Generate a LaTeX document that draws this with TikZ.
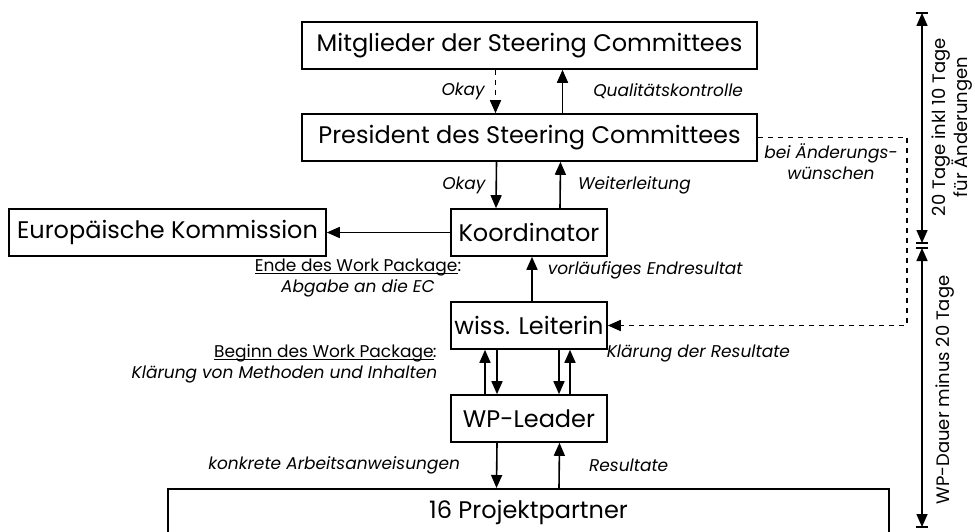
\documentclass[tikz,border=0pt]{standalone}
\usepackage{fontspec}
\setmainfont{Poppins}
\usetikzlibrary{arrows.meta}
\begin{document}
\begin{tikzpicture}[x=1pt, y=-1pt, >={Triangle[length=13pt,width=11pt]}, line width=1.6pt]
	\tikzstyle{box} = [draw, rectangle, inner sep=0pt, minimum height=47pt, font=\fontsize{24}{28}\selectfont]
	\tikzstyle{lbl} = [inner sep=0pt, font=\itshape\fontsize{17}{21}\selectfont]
	\tikzstyle{dimlbl} = [inner sep=0pt, rotate=90, align=center, font=\fontsize{18}{18}\selectfont]
	\tikzstyle{flow} = [->]
	\tikzstyle{back} = [->, dash pattern=on 5pt off 5pt]
	\useasboundingbox (0,0) rectangle (975,532);
	\node[box, minimum width=455pt](mitg) at (529.5,45.5) {Mitglieder der Steering Committees};
	\node[box, minimum width=455pt](pres) at (529.5,137.5) {President des Steering Committees};
	\node[box, minimum width=317pt](ek) at (167.5,232.5) {Europäische Kommission};
	\node[box, minimum width=156pt](koord) at (529,232.5) {Koordinator};
	\node[box, minimum width=156pt](leit) at (529,325.5) {wiss. Leiterin};
	\node[box, minimum width=156pt](wpl) at (529,418.5) {WP-Leader};
	\node[box, minimum width=721pt, text height=30pt, text depth=40pt, anchor=north](partner) at (528.5,488) {16 Projektpartner};
	\path ([xshift=-34pt]mitg.south) edge[back] node[lbl, left=10pt] {Okay} ([xshift=-34pt]pres.north);
	\path ([xshift=33pt]pres.north) edge[flow] node[lbl, right=30pt] {Qualitätskontrolle} ([xshift=33pt]mitg.south);
	\path ([xshift=-33pt]pres.south) edge[flow] node[lbl, left=10pt] {Okay} ([xshift=-33pt]koord.north);
	\path ([xshift=31pt]koord.north) edge[flow] node[lbl, right=17pt] {Weiterleitung} ([xshift=31pt]pres.south);
	\path (koord) edge[flow] (ek);
	\path ([xshift=3pt]leit.north) edge[flow] node[lbl, right=15pt, pos=0.7] {vorläufiges Endresultat} ([xshift=3pt]koord.south);
	\path ([xshift=-44pt]wpl.north) edge[flow] ([xshift=-44pt]leit.south);
	\path ([xshift=-32pt]leit.south) edge[flow] ([xshift=-32pt]wpl.north);
	\path ([xshift=30pt]leit.south) edge[flow] ([xshift=30pt]wpl.north);
	\path ([xshift=41pt]wpl.north) edge[flow] ([xshift=41pt]leit.south);
	\path ([xshift=-32pt]wpl.south) edge[flow] node[lbl, left=36pt] {konkrete Arbeitsanweisungen} ([xshift=-32pt]partner.north);
	\path ([xshift=30.5pt]partner.north) edge[flow] node[lbl, right=29pt] {Resultate} ([xshift=30.5pt]wpl.south);
	% Beschriftungen ohne eigene Kante
	\node[lbl, align=center](ende) at (358,280) {\upshape\underline{\smash{Ende des Work Package}}:\\Abgabe an die EC};
	\node[lbl, align=right, anchor=east](beginn) at (438,366) {\upshape\underline{\smash{Beginn des Work Package}}\itshape:\\Klärung von Methoden und Inhalten};
	\node[lbl, anchor=west](klaer) at (606,354) {Klärung der Resultate};
	% Rueckweg bei Aenderungen
	\coordinate (fbk) at (907,325.5);
	\draw[back] (pres.east) -| (fbk) -- (leit.east);
	\node[lbl, align=center](aend) at (831,162) {bei Änderungs-\\wünschen};
	% Zeitachse
	\coordinate (dtop) at (922,13);
	\coordinate (dmida) at (922,243);
	\coordinate (dmidb) at (922,248);
	\coordinate (dbot) at (922,527);
	\draw[<->] (dtop) -- (dmida);
	\draw[<->] (dmidb) -- (dbot);
	\foreach \c in {dtop, dmida, dmidb, dbot}
		\draw ([xshift=-6pt]\c) -- ([xshift=6pt]\c);
	\node[dimlbl](tagea) at (952,127) {20 Tage inkl 10 Tage\\für Änderungen};
	\node[dimlbl](tageb) at (945,390) {WP-Dauer minus 20 Tage};
\end{tikzpicture}
\end{document}
